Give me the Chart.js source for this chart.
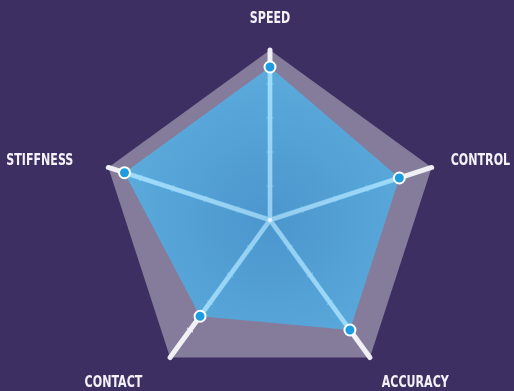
<!DOCTYPE html>
<html>
<head>
<meta charset="utf-8">
<script src="https://cdn.jsdelivr.net/npm/chart.js@4/dist/chart.umd.min.js"></script>
<style>
  html, body { margin: 0; padding: 0; background: #3e2f62; }
  #wrap { width: 514px; height: 391px; position: relative; }
</style>
</head>
<body>
<div id="wrap"><canvas id="radar"></canvas></div>
<script>
// skill ratings, clockwise from the top
const skills = ['SPEED', 'CONTROL', 'ACCURACY', 'CONTACT', 'STIFFNESS'];
const ratings = [9, 8, 8, 7, 9];
const scaleMax = 10;
const scaleStep = 2;

const labelFont = 'bold 16px "DejaVu Sans Condensed", "DejaVu Sans", sans-serif';
const labelSqueeze = 0.77;   // the poster font is very narrow

// round ends on the spokes
const roundCaps = {
  id: 'roundCaps',
  beforeDraw(chart) {
    chart.ctx.lineCap = 'round';
  }
};

// little cross marks on each spoke at every step
const spokeTicks = {
  id: 'spokeTicks',
  beforeDatasetsDraw(chart) {
    const r = chart.scales.r;
    const ctx = chart.ctx;
    ctx.save();
    ctx.strokeStyle = 'rgba(240,240,245,0.8)';
    ctx.lineWidth = 1.5;
    ctx.lineCap = 'butt';
    for (let i = 0; i < skills.length; i++) {
      const end = r.getPointPosition(i, r.drawingArea);
      const ux = (end.x - r.xCenter) / r.drawingArea;
      const uy = (end.y - r.yCenter) / r.drawingArea;
      r.ticks.forEach(t => {
        if (t.value <= 0 || t.value >= scaleMax) return;
        const p = r.getPointPosition(i, r.getDistanceFromCenterForValue(t.value));
        ctx.beginPath();
        ctx.moveTo(p.x - uy * 3.5, p.y + ux * 3.5);
        ctx.lineTo(p.x + uy * 3.5, p.y - ux * 3.5);
        ctx.stroke();
      });
    }
    ctx.restore();
  },
  // after the fill, before the points: let the spokes shine through the blue
  beforeDatasetDraw(chart) {
    const r = chart.scales.r;
    const ctx = chart.ctx;
    ctx.save();
    ctx.strokeStyle = 'rgba(255,255,255,0.28)';
    ctx.lineWidth = 4;
    ctx.lineCap = 'round';
    for (let i = 0; i < skills.length; i++) {
      const end = r.getPointPosition(i, r.drawingArea);
      ctx.beginPath();
      ctx.moveTo(r.xCenter, r.yCenter);
      ctx.lineTo(end.x, end.y);
      ctx.stroke();
    }
    ctx.restore();
  }
};

// axis names, placed off the end of each spoke
const skillLabels = {
  id: 'skillLabels',
  afterDraw(chart) {
    const r = chart.scales.r;
    const ctx = chart.ctx;
    skills.forEach((name, i) => {
      const p = r.getPointPosition(i, r.drawingArea + 20);
      let x = p.x, y = p.y;
      ctx.save();
      ctx.font = labelFont;
      ctx.fillStyle = '#f4f2f8';
      const dx = x - r.xCenter;
      if (Math.abs(dx) < 1) ctx.textAlign = 'center';
      else if (dx > 0) ctx.textAlign = 'left';
      else { ctx.textAlign = 'right'; x -= 16; }
      if (y < r.yCenter - r.drawingArea) { ctx.textBaseline = 'alphabetic'; y -= 7; }
      else if (y > r.yCenter) { ctx.textBaseline = 'top'; y += 1; }
      else ctx.textBaseline = 'middle';
      ctx.translate(x, y);
      ctx.scale(labelSqueeze, 1);
      ctx.fillText(name, 0, 0);
      ctx.restore();
    });
  }
};

function blueFill(context) {
  const chart = context.chart;
  const r = chart.scales.r;
  if (!chart.chartArea || !r) return 'rgba(60,180,245,0.65)';
  const g = chart.ctx.createRadialGradient(r.xCenter, r.yCenter, 0, r.xCenter, r.yCenter, r.drawingArea);
  g.addColorStop(0, 'rgba(48,162,228,0.68)');
  g.addColorStop(1, 'rgba(74,198,255,0.67)');
  return g;
}

new Chart(document.getElementById('radar'), {
  type: 'radar',
  data: {
    labels: skills,
    datasets: [{
      label: 'Rating',
      data: ratings,
      backgroundColor: blueFill,
      borderWidth: 0,
      fill: true,
      pointRadius: 5.5,
      pointBackgroundColor: '#1e9ce0',
      pointBorderColor: '#ffffff',
      pointBorderWidth: 2
    }]
  },
  options: {
    responsive: true,
    maintainAspectRatio: false,
    animation: false,
    layout: { padding: { left: 26, top: 50, right: 0, bottom: 1 } },
    plugins: {
      legend: { display: false },
      tooltip: { enabled: false }
    },
    scales: {
      r: {
        min: 0,
        max: scaleMax,
        backgroundColor: '#857b9b',
        ticks: { display: false, stepSize: scaleStep },
        grid: { display: false },
        angleLines: { color: 'rgba(240,240,245,0.95)', lineWidth: 5 },
        pointLabels: { display: false }
      }
    }
  },
  plugins: [roundCaps, spokeTicks, skillLabels]
});
</script>
</body>
</html>
